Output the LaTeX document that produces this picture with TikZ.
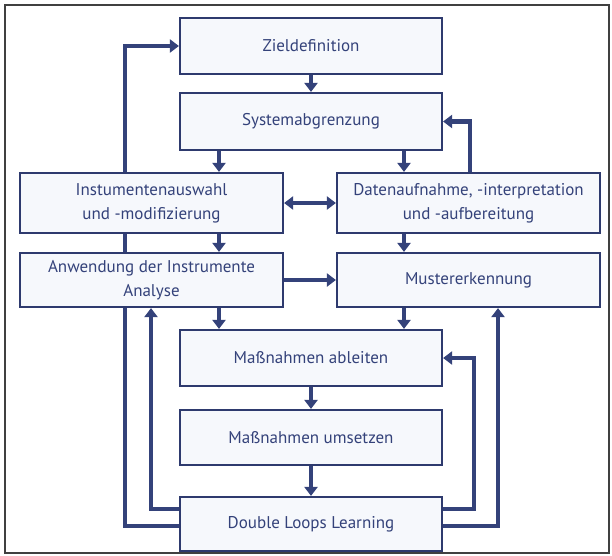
\documentclass[tikz,border=0pt]{standalone}
\usepackage{fontspec}
\setmainfont{PT Sans}
\usetikzlibrary{arrows.meta,backgrounds}
\definecolor{navy}{HTML}{2E3A6E}
\definecolor{loopblue}{HTML}{34427A}
\definecolor{boxfill}{HTML}{F6F8FC}

\begin{document}
\begin{tikzpicture}[x=1pt,y=-1pt]
		\tikzstyle{box}=[draw=navy,line width=2.2pt,fill=boxfill,text=loopblue,align=center,
			font=\fontsize{17}{24}\selectfont,minimum width=262pt,inner sep=0]
		\tikzstyle{side}=[box,minimum width=263pt]
		\tikzstyle{arr}=[draw=loopblue,line width=4.2pt,-{Triangle[length=9pt,width=13pt]}]
		\tikzstyle{arrboth}=[arr,{Triangle[length=9pt,width=13pt]}-{Triangle[length=9pt,width=13pt]}]

		\useasboundingbox (0,0) rectangle (612,555);
		\draw[line width=1.5pt,draw=black!75] (5,5) rectangle (609,553);

		% main column
		\node[box,minimum height=56pt] (ziel) at (311,46) {Zieldefinition};
		\node[box,minimum height=57pt] (system) at (311,121.5) {Systemabgrenzung};
		\node[side,minimum height=60pt] (instr) at (151.5,203) {Instumentenauswahl\\und -modifizierung};
		\node[side,minimum height=60pt] (daten) at (468.5,203) {Datenaufnahme, -interpretation\\und -aufbereitung};
		\node[side,minimum height=54pt] (anw) at (151.5,280) {Anwendung der Instrumente\\Analyse};
		\node[side,minimum height=54pt] (muster) at (468.5,280) {Mustererkennung};
		\node[box,minimum height=56pt] (ableiten) at (311,358) {Maßnahmen ableiten};
		\node[box,minimum height=55pt] (umsetzen) at (311,437.5) {Maßnahmen umsetzen};
		\node[box,minimum height=54pt] (dll) at (311,524) {Double Loops Learning};

		% columns of the arrows and loops
		\coordinate (colL) at (219,0);
		\coordinate (colR) at (404,0);
		\coordinate (loopL) at (125,0);
		\coordinate (loopLi) at (151,0);
		\coordinate (loopRi) at (474,0);
		\coordinate (loopR) at (498,0);
		\coordinate (loopD) at (470,0);

		\begin{scope}[on background layer]
			\foreach \a/\b in {ziel/system,ableiten/umsetzen,umsetzen/dll}
				\draw[arr] (\a) -- (\b);
			\foreach \a/\b/\c in {system/instr/colL,system/daten/colR,instr/anw/colL,
					daten/muster/colR,anw/ableiten/colL,muster/ableiten/colR}
				\draw[arr] (\a.south -| \c) -- (\b.north -| \c);
			\draw[arrboth] (instr) -- (daten);
			\draw[arr] (anw) -- (muster);

			% loops
			\draw[arr] (daten.north -| loopD) |- (system.east);
			\draw[arr] ([yshift=-2pt]dll.west) -| (ziel.west -| loopL) -- (ziel.west);
			\draw[arr] ([yshift=15pt]dll.west) -| (anw.south -| loopLi);
			\draw[arr] ([yshift=15pt]dll.east) -| (ableiten.east -| loopRi) -- (ableiten.east);
			\draw[arr] ([yshift=-2pt]dll.east) -| (muster.south -| loopR);
		\end{scope}
	\end{tikzpicture}
\end{document}
